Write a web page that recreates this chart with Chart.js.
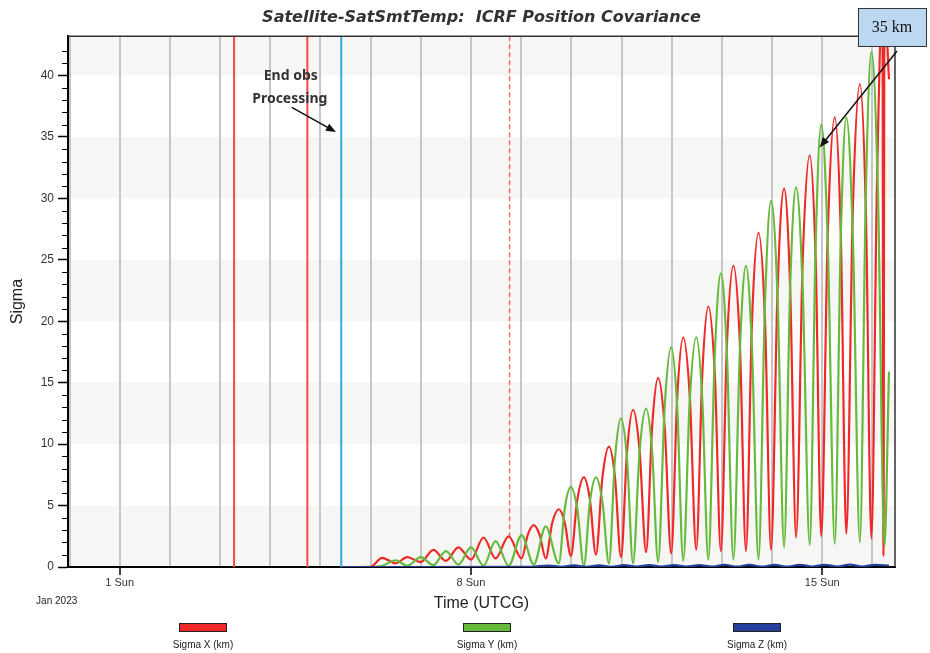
<!DOCTYPE html>
<html>
<head>
<meta charset="utf-8">
<script src="https://cdn.jsdelivr.net/npm/chart.js@4/dist/chart.umd.min.js"></script>
<style>
  body { margin: 0; background: #fff; }
  canvas { display: block; }
</style>
</head>
<body>
<canvas id="covChart" width="930" height="653"></canvas>
<script>
// Days of January 2023 (fractional) and sigma values in km
// (peaks, troughs and the flanks of the larger humps)
const redDays = [5.45, 6.0, 6.23, 6.5, 6.73, 7.0, 7.25, 7.5, 7.75, 8.0, 8.25, 8.49, 8.75, 9.01,
  9.13, 9.25, 9.37, 9.49, 9.62, 9.75, 9.87, 9.99, 10.12, 10.25, 10.37, 10.49, 10.62, 10.75, 10.87, 10.99,
  11.11, 11.23, 11.36, 11.49, 11.61, 11.73, 11.86, 11.99, 12.11, 12.23, 12.36, 12.49, 12.61, 12.73, 12.86, 12.98,
  13.1, 13.23, 13.36, 13.48, 13.6, 13.73, 13.86, 13.98, 14.11, 14.24, 14.36, 14.48, 14.61, 14.75, 14.87, 14.98,
  15.11, 15.25, 15.37, 15.48, 15.61, 15.75, 15.87, 15.98, 16.09, 16.2, 16.22, 16.24, 16.33];
const sigmaX = [0, 0.02, 0.75, 0.3, 0.8, 0.4, 1.4, 0.5, 1.6, 0.6, 2.4, 0.7, 2.5, 0.7,
  2.6, 3.4, 2.6, 0.7, 3.6, 4.7, 3.6, 0.9, 5.5, 7.3, 5.5, 1.0, 7.3, 9.8, 7.3, 0.8,
  9.4, 12.8, 9.5, 1.2, 11.4, 15.4, 11.4, 1.1, 13.8, 18.7, 13.9, 1.4, 15.7, 21.2, 15.6, 1.3,
  18.0, 24.5, 18.0, 1.3, 20.0, 27.2, 20.0, 1.4, 22.6, 30.8, 22.8, 2.4, 24.8, 33.5, 24.8, 2.5,
  27.1, 36.6, 27.1, 2.7, 29.1, 39.3, 28.9, 2.3, 31.0, 46, 0.9, 46, 39.7];

const greenDays = [5.45, 5.95, 6.23, 6.5, 6.73, 7.0, 7.25, 7.5, 7.75, 8.0, 8.25, 8.49, 8.75, 9.01, 9.25, 9.49, 9.75,
  9.87, 9.99, 10.12, 10.25, 10.37, 10.49, 10.62, 10.75, 10.87, 10.99, 11.11, 11.23,
  11.36, 11.49, 11.61, 11.73, 11.86, 11.99, 12.11, 12.23, 12.36, 12.49, 12.61, 12.73,
  12.86, 12.98, 13.1, 13.23, 13.36, 13.48, 13.6, 13.73, 13.86, 13.98, 14.11, 14.24,
  14.36, 14.48, 14.61, 14.75, 14.87, 14.98, 15.11, 15.25, 15.37, 15.48, 15.61, 15.75,
  15.87, 15.98, 16.11, 16.24, 16.33];
const sigmaY = [0, 0, 0.1, 0.55, 0.1, 0.8, 0.15, 1.3, 0.2, 1.6, 0.1, 2.1, 0.1, 2.6, 0.2, 3.3, 0.3,
  4.8, 6.5, 4.7, 0.1, 5.3, 7.3, 5.3, 0.3, 8.8, 12.1, 8.8, 0.3,
  9.4, 12.9, 9.4, 0.4, 13.0, 17.9, 13.0, 0.5, 13.6, 18.7, 13.6, 0.6,
  17.4, 23.9, 17.4, 0.6, 17.8, 24.5, 17.8, 0.6, 21.6, 29.8, 21.9, 1.6,
  22.7, 30.9, 22.7, 1.8, 26.4, 36.0, 26.4, 1.9, 26.9, 36.6, 26.9, 2.0,
  30.7, 41.9, 30.6, 1.7, 15.9];

const blueDays = [5.45, 9.2, 9.55, 9.8, 10.05, 10.3, 10.55, 10.8, 11.05, 11.3, 11.55, 11.8, 12.05, 12.3, 12.55, 12.8,
  13.05, 13.3, 13.55, 13.8, 14.05, 14.3, 14.55, 14.8, 15.05, 15.3, 15.55, 15.8, 16.05, 16.33];
const sigmaZ = [0, 0.01, 0.12, 0.02, 0.13, 0.02, 0.14, 0.02, 0.15, 0.03, 0.15, 0.03, 0.16, 0.03, 0.16, 0.03,
  0.17, 0.03, 0.17, 0.03, 0.18, 0.03, 0.18, 0.04, 0.18, 0.04, 0.19, 0.04, 0.18, 0.12];

// x tick labels (Jan 2023)
const xTickDays = [1, 8, 15];
const xTickLabels = ['1 Sun', '8 Sun', '15 Sun'];

// event lines: two red, end of obs processing (blue), dashed red
const eventDays = [3.28, 4.74, 5.415, 8.77];

const seriesNames = ['Sigma X (km)', 'Sigma Y (km)', 'Sigma Z (km)'];
const seriesColors = ['#f02828', '#66bb3c', '#24409a'];

function pts(days, vals) {
    return days.map((d, i) => ({ x: d, y: vals[i] }));
}

function arrow(ctx, x1, y1, x2, y2) {
    const ang = Math.atan2(y2 - y1, x2 - x1);
    ctx.beginPath();
    ctx.moveTo(x1, y1);
    ctx.lineTo(x2 - 6 * Math.cos(ang), y2 - 6 * Math.sin(ang));
    ctx.stroke();
    ctx.beginPath();
    ctx.moveTo(x2, y2);
    ctx.lineTo(x2 - 10 * Math.cos(ang) + 4 * Math.sin(ang), y2 - 10 * Math.sin(ang) - 4 * Math.cos(ang));
    ctx.lineTo(x2 - 10 * Math.cos(ang) - 4 * Math.sin(ang), y2 - 10 * Math.sin(ang) + 4 * Math.cos(ang));
    ctx.closePath();
    ctx.fill();
}

// background bands, event lines, annotations, legend
const decor = {
    id: 'decor',
    beforeDraw(chart) {
        const { ctx, chartArea: a, scales: { y } } = chart;
        ctx.save();
        ctx.fillStyle = '#fff';
        ctx.fillRect(0, 0, chart.width, chart.height);
        ctx.fillStyle = '#f6f6f5';
        for (let lo = 0; lo < 45; lo += 10) {
            const top = Math.max(a.top, y.getPixelForValue(lo + 5));
            const bot = y.getPixelForValue(lo);
            ctx.fillRect(a.left, top, a.right - a.left, bot - top);
        }
        ctx.restore();
    },
    beforeDatasetsDraw(chart) {
        const { ctx, chartArea: a, scales: { x, y } } = chart;
        ctx.save();
        ctx.lineWidth = 2;
        ctx.strokeStyle = '#f04a4a';
        [eventDays[0], eventDays[1]].forEach(d => {
            const px = x.getPixelForValue(d);
            ctx.beginPath(); ctx.moveTo(px, a.top); ctx.lineTo(px, a.bottom); ctx.stroke();
        });
        ctx.strokeStyle = '#35a9e0';
        let px = x.getPixelForValue(eventDays[2]);
        ctx.beginPath(); ctx.moveTo(px, a.top); ctx.lineTo(px, a.bottom); ctx.stroke();
        ctx.strokeStyle = '#f26a6a';
        ctx.lineWidth = 1.5;
        ctx.setLineDash([5, 3]);
        px = x.getPixelForValue(eventDays[3]);
        ctx.beginPath(); ctx.moveTo(px, a.top); ctx.lineTo(px, y.getPixelForValue(2.5)); ctx.stroke();
        ctx.restore();
    },
    afterDraw(chart) {
        const { ctx, chartArea: a, scales: { x, y } } = chart;
        ctx.save();
        // frame on top and right
        ctx.strokeStyle = '#333';
        ctx.lineWidth = 1.5;
        ctx.beginPath();
        ctx.moveTo(a.left, a.top); ctx.lineTo(a.right, a.top); ctx.lineTo(a.right, a.bottom);
        ctx.stroke();
        // minor y ticks
        ctx.strokeStyle = '#000';
        ctx.lineWidth = 1;
        for (let v = 1; v < 43; v++) {
            if (v % 5 === 0) continue;
            const py = Math.round(y.getPixelForValue(v)) + 0.5;
            ctx.beginPath(); ctx.moveTo(a.left - 6, py); ctx.lineTo(a.left, py); ctx.stroke();
        }

        // End obs Processing
        ctx.fillStyle = '#333';
        ctx.font = 'bold 14px "Noto Sans"';
        ctx.textAlign = 'center';
        ctx.textBaseline = 'middle';
        ctx.fillText('End obs', x.getPixelForValue(4.41), y.getPixelForValue(40.0));
        ctx.fillText('Processing', x.getPixelForValue(4.39), y.getPixelForValue(38.1));
        ctx.strokeStyle = '#111';
        ctx.fillStyle = '#111';
        ctx.lineWidth = 1.5;
        arrow(ctx, x.getPixelForValue(4.43), y.getPixelForValue(37.4), x.getPixelForValue(5.31), y.getPixelForValue(35.4));

        // 35 km callout
        arrow(ctx, x.getPixelForValue(16.49), y.getPixelForValue(42.0), x.getPixelForValue(14.95), y.getPixelForValue(34.15));
        const cx = x.getPixelForValue(16.39), cy = y.getPixelForValue(43.95);
        ctx.fillStyle = '#bcd8f0';
        ctx.fillRect(cx - 34, cy - 19, 68, 38);
        ctx.strokeStyle = '#333';
        ctx.lineWidth = 1;
        ctx.strokeRect(cx - 34 + 0.5, cy - 19 + 0.5, 68, 38);
        ctx.fillStyle = '#111';
        ctx.font = '16px "Liberation Serif"';
        ctx.fillText('35 km', cx, cy + 1);

        // date under first tick
        ctx.fillStyle = '#222';
        ctx.font = '10px "Liberation Sans"';
        ctx.fillText('Jan 2023', x.getPixelForValue(1) - 63, 601);

        // legend: box above text
        const centers = [203, 487, 757];
        chart.data.datasets.forEach((ds, i) => {
            const lx = centers[i];
            ctx.fillStyle = ds.borderColor;
            ctx.fillRect(lx - 24, 623, 48, 9);
            ctx.strokeStyle = '#222';
            ctx.lineWidth = 1;
            ctx.strokeRect(lx - 24 + 0.5, 623 + 0.5, 47, 8);
            ctx.fillStyle = '#222';
            ctx.font = '10px "Liberation Sans"';
            ctx.fillText(ds.label, lx, 645);
        });
        ctx.restore();
    }
};

const ctx = document.getElementById('covChart').getContext('2d');
const covChart = new Chart(ctx, {
    type: 'line',
    data: {
        datasets: [{
            label: seriesNames[0],
            data: pts(redDays, sigmaX),
            borderColor: seriesColors[0],
            order: 2
        }, {
            label: seriesNames[1],
            data: pts(greenDays, sigmaY),
            borderColor: seriesColors[1],
            order: 1
        }, {
            label: seriesNames[2],
            data: pts(blueDays, sigmaZ),
            borderColor: seriesColors[2],
            order: 0
        }]
    },
    options: {
        responsive: false,
        animation: false,
        layout: { padding: { left: 0, right: 35, bottom: 40, top: 0 } },
        elements: {
            point: { radius: 0 },
            line: { borderWidth: 2.2, cubicInterpolationMode: 'monotone', fill: false }
        },
        plugins: {
            legend: { display: false },
            tooltip: { enabled: false },
            title: {
                display: true,
                fullSize: false,
                text: 'Satellite-SatSmtTemp:  ICRF Position Covariance',
                color: '#333',
                font: { family: 'DejaVu Sans', size: 16, style: 'italic', weight: 'bold' },
                padding: { top: 8, bottom: 9 }
            }
        },
        scales: {
            x: {
                type: 'linear',
                min: -0.03,
                max: 16.45,
                afterFit: s => { s.height = 46; },
                border: { color: '#000', width: 2 },
                grid: {
                    color: '#c6c6c6',
                    lineWidth: 2,
                    tickLength: 8,
                    tickColor: c => xTickDays.includes(c.tick && c.tick.value) ? '#000' : 'rgba(0,0,0,0)',
                    tickWidth: 1.5
                },
                ticks: {
                    stepSize: 1,
                    autoSkip: false,
                    includeBounds: false,
                    maxRotation: 0,
                    padding: 1,
                    color: '#333',
                    font: { family: 'Liberation Sans', size: 11 },
                    callback: v => {
                        const i = xTickDays.indexOf(v);
                        return i >= 0 ? xTickLabels[i] : '';
                    }
                },
                title: {
                    display: true,
                    text: 'Time (UTCG)',
                    color: '#222',
                    font: { family: 'Liberation Sans', size: 16 },
                    padding: { top: 0, bottom: 0 }
                }
            },
            y: {
                min: 0,
                max: 43.2,
                afterFit: s => { s.width = 68; },
                border: { color: '#000', width: 2 },
                grid: {
                    drawOnChartArea: false,
                    tickLength: 10,
                    tickColor: '#000',
                    tickWidth: 1.5
                },
                ticks: {
                    stepSize: 5,
                    includeBounds: false,
                    padding: 4,
                    color: '#333',
                    font: { family: 'Liberation Sans', size: 12 }
                },
                title: {
                    display: true,
                    text: 'Sigma',
                    color: '#222',
                    font: { family: 'Liberation Sans', size: 16 },
                    padding: { top: 8, bottom: 0 }
                }
            }
        }
    },
    plugins: [decor]
});
</script>
</body>
</html>
